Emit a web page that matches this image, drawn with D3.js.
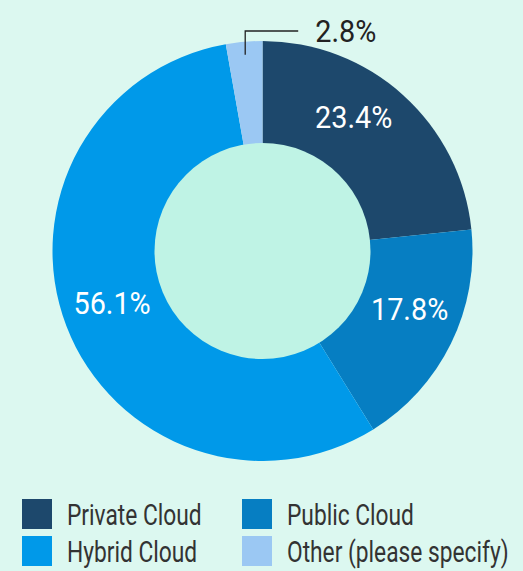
<!DOCTYPE html>
<html>
<head>
<meta charset="utf-8">
<script src="https://cdn.jsdelivr.net/npm/d3@7"></script>
<style>
  html, body { margin: 0; padding: 0; background: #dcf8f0; }
  svg { display: block; }
</style>
</head>
<body>
<div id="chart"></div>
<script>
// data
const categories = ["Private Cloud", "Public Cloud", "Hybrid Cloud", "Other (please specify)"];
const shares = [23.4, 17.8, 56.1, 2.8];
const labels = ["23.4%", "17.8%", "56.1%", "2.8%"];

const colors = ["#1d486c", "#067ec2", "#0099e9", "#9bc8f3"];
const width = 523, height = 571;
const cx = 262.5, cy = 251, outerR = 210, innerR = 108;
const font = "Roboto, sans-serif";

// squeeze text horizontally so it looks like the condensed face of the original
function condense(sel, factor) {
  sel.each(function() {
    const t = d3.select(this);
    const x = +t.attr("x") || 0, y = +t.attr("y") || 0;
    t.attr("x", 0).attr("y", 0)
     .attr("transform", "translate(" + x + "," + y + ") scale(" + factor + ",1)");
  });
}

const svg = d3.select("#chart").append("svg")
    .attr("width", width)
    .attr("height", height);

svg.append("rect").attr("width", width).attr("height", height).attr("fill", "#dcf8f0");

const g = svg.append("g").attr("transform", "translate(" + cx + "," + cy + ")");

const pie = d3.pie().sort(null).value(d => d);
const arcs = pie(shares);
const arc = d3.arc().innerRadius(0).outerRadius(outerR);
const labelArc = d3.arc().innerRadius(160).outerRadius(160);

g.selectAll("path.slice")
  .data(arcs)
  .enter().append("path")
    .attr("class", "slice")
    .attr("d", arc)
    .attr("fill", (d, i) => colors[i]);

// center hole
g.append("circle").attr("r", innerR).attr("fill", "#bff3e5");

// in-slice labels (last one is called out)
const nudge = [[-16, -15], [3.5, -13], [-1, -5.5]];
g.selectAll("text.pct")
  .data(arcs.slice(0, 3))
  .enter().append("text")
    .attr("class", "pct")
    .attr("x", (d, i) => labelArc.centroid(d)[0] + nudge[i][0])
    .attr("y", (d, i) => labelArc.centroid(d)[1] + nudge[i][1])
    .attr("dy", "0.36em")
    .attr("text-anchor", "middle")
    .style("font-family", font)
    .style("font-size", "31px")
    .attr("fill", "#fff")
    .text((d, i) => labels[i])
    .call(condense, 0.93);

// callout for the small slice
const small = arcs[3];
const mid = (small.startAngle + small.endAngle) / 2;
const sx = Math.sin(mid) * (outerR - 13), sy = -Math.cos(mid) * (outerR - 13);
const topY = -outerR - 10;
g.append("path")
  .attr("d", d3.line()([[sx, sy], [sx, topY], [sx + 53, topY]]))
  .attr("fill", "none")
  .attr("stroke", "#222")
  .attr("stroke-width", 1.3);
g.append("text")
  .attr("x", sx + 70)
  .attr("y", topY)
  .attr("dy", "0.36em")
  .style("font-family", font)
  .style("font-size", "31px")
  .attr("fill", "#222")
  .text(labels[3])
  .call(condense, 0.93);

// legend
const legend = svg.append("g").attr("transform", "translate(22,499)");
const item = legend.selectAll("g.item")
  .data(categories)
  .enter().append("g")
    .attr("class", "item")
    .attr("transform", (d, i) => "translate(" + (i % 2) * 220 + "," + Math.floor(i / 2) * 37 + ")");
item.append("rect")
  .attr("width", 30).attr("height", 30)
  .attr("fill", (d, i) => colors[i]);
item.append("text")
  .attr("x", 45)
  .attr("y", 16)
  .attr("dy", "0.36em")
  .style("font-family", font)
  .style("font-size", "29px")
  .attr("fill", "#333")
  .text(d => d)
  .call(condense, 0.785);
</script>
</body>
</html>
